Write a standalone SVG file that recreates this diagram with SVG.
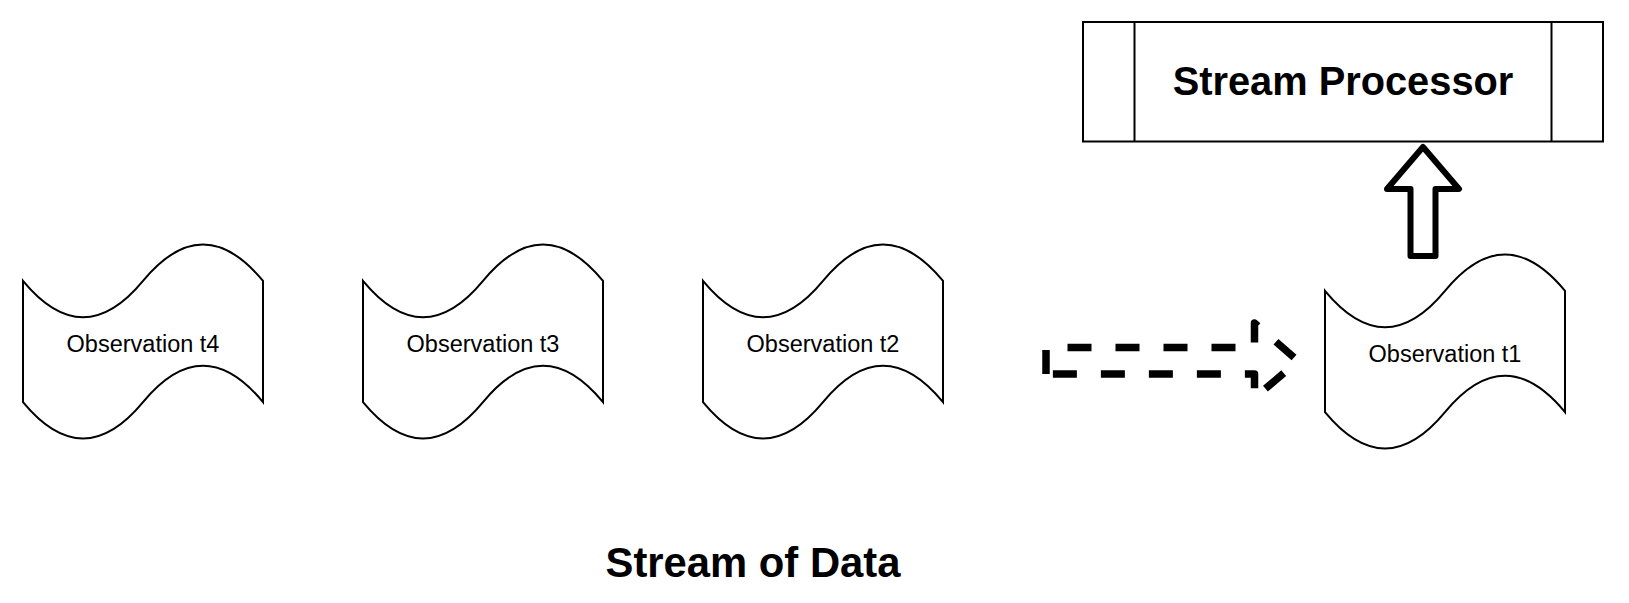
<svg xmlns="http://www.w3.org/2000/svg" width="1629" height="603" viewBox="0 0 1629 603">
<style>
.tape{fill:#fff;stroke:#000;stroke-width:2}
.lbl{font-family:"Liberation Sans",Arial,sans-serif;font-size:23.5px;text-anchor:middle;fill:#000}
.big{font-family:"Liberation Sans",Arial,sans-serif;font-weight:bold;text-anchor:middle;fill:#000}
</style>
<defs>
<path id="tapeShape" d="M0,40.4 Q60,113.1 120,40.4 Q180,-32.3 240,40.4 L240,161.6 Q180,88.9 120,161.6 Q60,234.3 0,161.6 Z"/>
</defs>
<rect width="1629" height="603" fill="#fff"/>
<g id="obs-t4" transform="translate(23,240.5)">
<use href="#tapeShape" class="tape"/>
<text class="lbl" x="120" y="111.5">Observation t4</text>
</g>
<g id="obs-t3" transform="translate(363,240.5)">
<use href="#tapeShape" class="tape"/>
<text class="lbl" x="120" y="111.5">Observation t3</text>
</g>
<g id="obs-t2" transform="translate(703,240.5)">
<use href="#tapeShape" class="tape"/>
<text class="lbl" x="120" y="111.5">Observation t2</text>
</g>
<g id="obs-t1" transform="translate(1325,250.5)">
<use href="#tapeShape" class="tape"/>
<text class="lbl" x="120" y="111.5">Observation t1</text>
</g>
<g id="stream-processor">
<rect x="1083" y="22" width="520" height="119.5" fill="#fff" stroke="#000" stroke-width="2"/>
<line x1="1134.5" y1="22" x2="1134.5" y2="141.5" stroke="#000" stroke-width="2"/>
<line x1="1551.5" y1="22" x2="1551.5" y2="141.5" stroke="#000" stroke-width="2"/>
<text class="big" x="1343" y="95" font-size="39.8">Stream Processor</text>
</g>
<g id="connectors">
<path d="M1046,374 L1046,347.5 L1254.5,347.5 L1254.5,323 L1298,361 L1254.5,398 L1254.5,374 Z" fill="none" stroke="#000" stroke-width="7.5" stroke-dasharray="24 24" stroke-linejoin="round"/>
<path d="M1423,147 L1459,189 L1435.5,189 L1435.5,256 L1410.5,256 L1410.5,189 L1387,189 Z" fill="#fff" stroke="#000" stroke-width="6" stroke-linejoin="round"/>
</g>
<text class="big" x="753" y="576.5" font-size="41.8">Stream of Data</text>
</svg>
